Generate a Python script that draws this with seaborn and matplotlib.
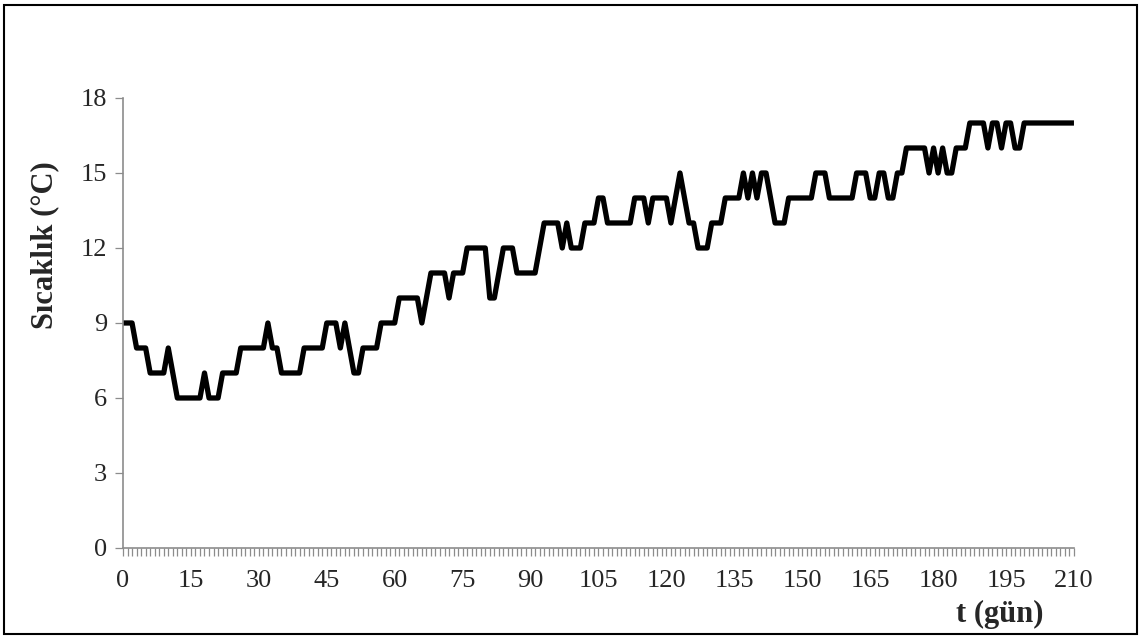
import matplotlib
matplotlib.use("Agg")
import matplotlib.pyplot as plt
from matplotlib.patches import Rectangle
from matplotlib.ticker import MultipleLocator
import seaborn as sns
import numpy as np

# daily temperature readings, day 0 .. 210
days = list(range(211))
temps = [
    9, 9, 9, 8, 8, 8, 7, 7, 7, 7, 8, 7, 6, 6, 6,
    6, 6, 6, 7, 6, 6, 6, 7, 7, 7, 7, 8, 8, 8, 8,
    8, 8, 9, 8, 8, 7, 7, 7, 7, 7, 8, 8, 8, 8, 8,
    9, 9, 9, 8, 9, 8, 7, 7, 8, 8, 8, 8, 9, 9, 9,
    9, 10, 10, 10, 10, 10, 9, 10, 11, 11, 11, 11, 10, 11, 11,
    11, 12, 12, 12, 12, 12, 10, 10, 11, 12, 12, 12, 11, 11, 11,
    11, 11, 12, 13, 13, 13, 13, 12, 13, 12, 12, 12, 13, 13, 13,
    14, 14, 13, 13, 13, 13, 13, 13, 14, 14, 14, 13, 14, 14, 14,
    14, 13, 14, 15, 14, 13, 13, 12, 12, 12, 13, 13, 13, 14, 14,
    14, 14, 15, 14, 15, 14, 15, 15, 14, 13, 13, 13, 14, 14, 14,
    14, 14, 14, 15, 15, 15, 14, 14, 14, 14, 14, 14, 15, 15, 15,
    14, 14, 15, 15, 14, 14, 15, 15, 16, 16, 16, 16, 16, 15, 16,
    15, 16, 15, 15, 16, 16, 16, 17, 17, 17, 17, 16, 17, 17, 16,
    17, 17, 16, 16, 17, 17, 17, 17, 17, 17, 17, 17, 17, 17, 17,
    17,
]
x_ticks = list(range(0, 211, 15))
y_ticks = [0, 3, 6, 9, 12, 15, 18]

sns.set_style("white")
plt.rcParams["font.family"] = ["Liberation Serif", "DejaVu Serif"]

fig = plt.figure(figsize=(11.43, 6.38), dpi=100)
ax = fig.add_axes([0.1076, 0.1411, 0.832, 0.7053])

sns.lineplot(x=days, y=temps, ax=ax, color="black", linewidth=3.8)
for ln in ax.get_lines():
    ln.set_solid_capstyle("butt")
    ln.set_solid_joinstyle("round")

grey = "#8c8c8c"
ax.set_xlim(0, 210)
ax.set_ylim(0, 18)
ax.set_xticks(x_ticks)
ax.set_yticks(y_ticks)
ax.xaxis.set_minor_locator(MultipleLocator(1))
for s in ["top", "right"]:
    ax.spines[s].set_visible(False)
for s in ["left", "bottom"]:
    ax.spines[s].set_color(grey)
    ax.spines[s].set_linewidth(1.2)

ax.tick_params(axis="x", which="both", direction="out", length=5.8, width=0.9,
               color=grey, labelsize=19, pad=10, bottom=True)
ax.tick_params(axis="y", which="major", direction="out", length=5.5, width=0.9,
               color=grey, labelsize=19, pad=6, left=True)
ax.set_xlabel("")
ax.set_ylabel("")

fig.text(45 / 1143, 1 - 245 / 638, "Sıcaklık (°C)", rotation=90, ha="center",
         va="center", fontsize=22, fontweight="bold")
fig.text(1000 / 1143, 1 - 614 / 638, "t (gün)", ha="center", va="center",
         fontsize=22, fontweight="bold")

# outer frame around the chart area
fig.patches.append(Rectangle((4 / 1143, 4 / 638), 1133 / 1143, 629 / 638,
                             transform=fig.transFigure, fill=False,
                             edgecolor="black", linewidth=1.5))

fig.savefig("out.png", dpi=100, facecolor="white")
